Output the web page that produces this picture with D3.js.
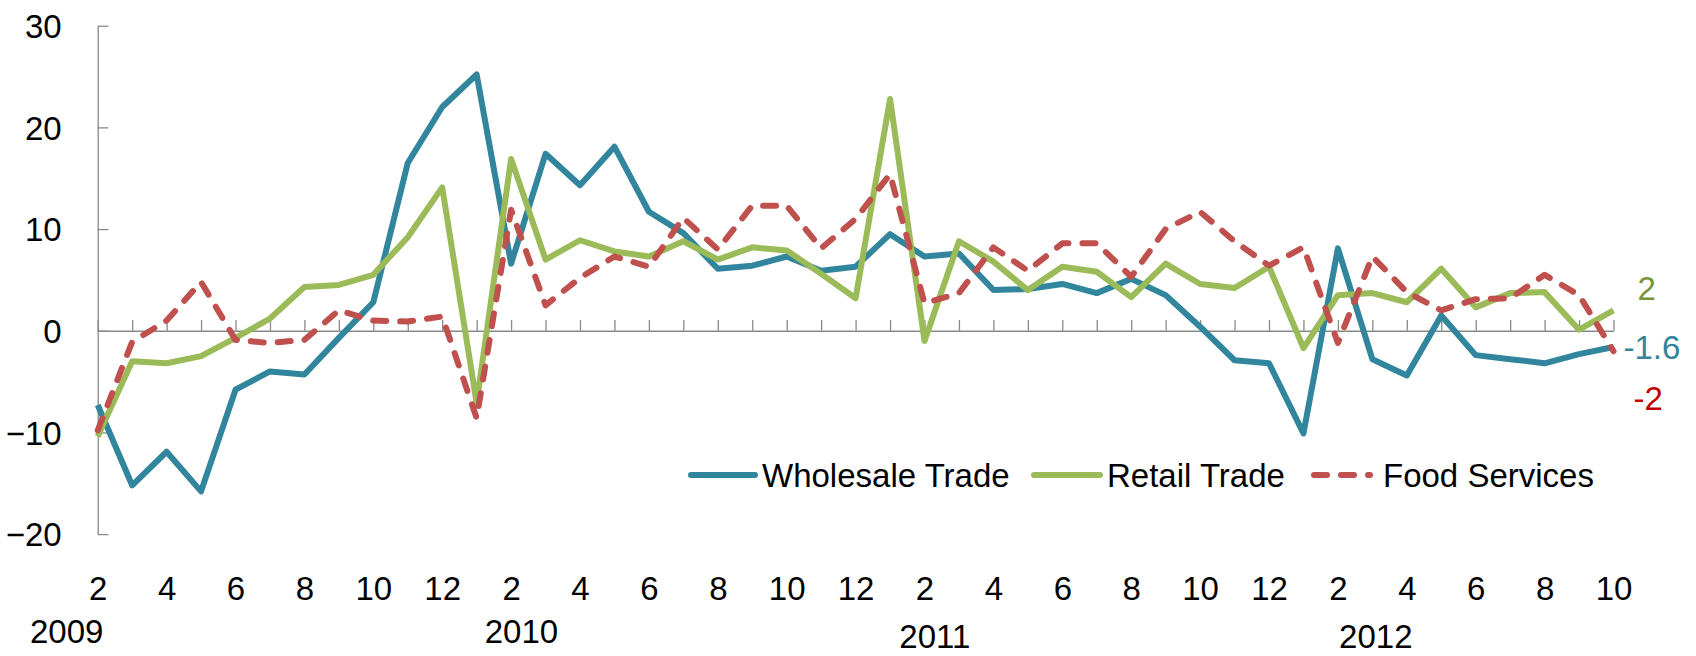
<!DOCTYPE html>
<html>
<head>
<meta charset="utf-8">
<script src="https://cdn.jsdelivr.net/npm/d3@7"></script>
<style>
  body { margin: 0; background: #fff; }
  svg { display: block; font-family: "Liberation Sans", Arial, sans-serif; }
  .axis path, .axis line { stroke: #898989; stroke-width: 1.3; }
  .axis text { font-size: 33px; fill: #000; }
</style>
</head>
<body>
<svg id="chart" width="1696" height="656"></svg>
<script>
// month of each observation, Feb 2009 .. Oct 2012
const months = [2, 3, 4, 5, 6, 7, 8, 9, 10, 11, 12,
    1, 2, 3, 4, 5, 6, 7, 8, 9, 10, 11, 12,
    1, 2, 3, 4, 5, 6, 7, 8, 9, 10, 11, 12,
    1, 2, 3, 4, 5, 6, 7, 8, 9, 10];
const years = ['2009', '2010', '2011', '2012'];
const yTicks = [-20, -10, 0, 10, 20, 30];

const wholesale = [-7.3, -15.2, -11.9, -15.8, -5.8, -4.0, -4.3, -0.7, 2.8, 16.5, 22.0,
    25.2, 6.6, 17.4, 14.3, 18.1, 11.7, 9.6, 6.1, 6.4, 7.3, 5.9, 6.3,
    9.5, 7.3, 7.6, 4.0, 4.1, 4.6, 3.7, 5.1, 3.5, 0.4, -2.9, -3.2,
    -10.1, 8.1, -2.8, -4.4, 1.5, -2.4, -2.8, -3.2, -2.3, -1.6];
const retail = [-10.4, -3.0, -3.2, -2.5, -0.7, 1.2, 4.3, 4.5, 5.5, 9.2, 14.1,
    -7.1, 16.9, 7.0, 8.9, 7.8, 7.3, 8.8, 7.0, 8.2, 7.9, 5.6, 3.2,
    22.8, -1.0, 8.8, 6.8, 4.0, 6.3, 5.8, 3.3, 6.6, 4.6, 4.2, 6.3,
    -1.7, 3.5, 3.7, 2.8, 6.1, 2.3, 3.7, 3.8, 0.1, 2.0];
const food = [-9.8, -1.1, 1.0, 4.8, -0.9, -1.2, -0.9, 2.0, 1.0, 0.9, 1.4,
    -8.6, 11.9, 2.5, 5.2, 7.3, 6.3, 11.1, 8.0, 12.3, 12.3, 8.1, 11.0,
    15.4, 2.7, 3.7, 8.2, 5.9, 8.6, 8.6, 5.3, 10.0, 11.7, 8.8, 6.4,
    8.2, -1.2, 7.3, 3.8, 2.0, 3.1, 3.2, 5.5, 3.5, -2.0];

const series = [
    { name: 'Wholesale Trade', values: wholesale, color: '#31859C', labelColor: '#31859C', dash: null },
    { name: 'Retail Trade', values: retail, color: '#9BBB59', labelColor: '#77933C', dash: null },
    { name: 'Food Services', values: food, color: '#C0504D', labelColor: '#C00000', dash: '13 14' }
];

const svg = d3.select('#chart');
const lineWidth = 6;

const x = d3.scaleLinear()
    .domain([0, months.length - 1])
    .range([97.7, 1613.5]);
const y = d3.scaleLinear()
    .domain([-20, 30])
    .range([534.1, 25.7]);

// y axis, ticks pointing into the plot
svg.append('g')
    .attr('class', 'axis')
    .attr('transform', `translate(${x(0)}, 0)`)
    .call(d3.axisLeft(y).tickValues(yTicks).tickSize(-10.7).tickSizeOuter(0).tickPadding(36))
    .call((g) => g.selectAll('text').attr('dy', '0.36em'));

// x axis line on zero, ticks up
svg.append('g')
    .attr('class', 'axis')
    .attr('transform', `translate(0, ${y(0)})`)
    .call(d3.axisBottom(x).tickValues(d3.range(months.length)).tickSize(-10.7).tickSizeOuter(0).tickFormat(''));

// month labels below the plot
svg.append('g')
    .attr('class', 'axis')
    .attr('transform', 'translate(0, 600)')
    .call(d3.axisBottom(x)
        .tickValues(d3.range(0, months.length, 2))
        .tickSize(0)
        .tickPadding(0)
        .tickFormat((i) => months[i]))
    .call((g) => g.select('.domain').remove())
    .call((g) => g.selectAll('text').attr('dy', 0));

// year labels, placed by month index
const yearPos = [{ i: -0.9, y: 643 }, { i: 12.3, y: 643 }, { i: 24.3, y: 648 }, { i: 37.1, y: 648 }];
svg.append('g')
    .selectAll('text')
    .data(years)
    .join('text')
    .attr('x', (d, k) => x(yearPos[k].i))
    .attr('y', (d, k) => yearPos[k].y)
    .attr('text-anchor', 'middle')
    .attr('font-size', 33)
    .text((d) => d);

const line = d3.line()
    .x((d, i) => x(i))
    .y((d) => y(d));

svg.append('g')
    .selectAll('path')
    .data(series)
    .join('path')
    .attr('d', (s) => line(s.values))
    .attr('fill', 'none')
    .attr('stroke', (s) => s.color)
    .attr('stroke-width', lineWidth)
    .attr('stroke-linejoin', 'round')
    .attr('stroke-linecap', (s) => s.dash ? 'round' : 'butt')
    .attr('stroke-dasharray', (s) => s.dash);

// last-value labels at the right
const endOffsets = [{ dx: 10, dy: 0 }, { dx: 24, dy: -22 }, { dx: 20, dy: 47 }];
svg.append('g')
    .selectAll('text')
    .data(series)
    .join('text')
    .attr('x', (s, k) => x(s.values.length - 1) + endOffsets[k].dx)
    .attr('y', (s, k) => y(s.values[s.values.length - 1]) + endOffsets[k].dy)
    .attr('dy', '0.36em')
    .attr('font-size', 33)
    .attr('fill', (s) => s.labelColor)
    .text((s) => s.values[s.values.length - 1]);

// legend
const legendItems = [{ x1: 691, x2: 755, tx: 762 }, { x1: 1034, x2: 1100, tx: 1107 }, { x1: 1314, x2: 1370, tx: 1383 }];
const legend = svg.append('g').attr('transform', 'translate(0, 475)');
const item = legend.selectAll('g')
    .data(series)
    .join('g');
item.append('line')
    .attr('x1', (s, k) => legendItems[k].x1)
    .attr('x2', (s, k) => legendItems[k].x2)
    .attr('stroke', (s) => s.color)
    .attr('stroke-width', lineWidth)
    .attr('stroke-linecap', 'round')
    .attr('stroke-dasharray', (s) => s.dash);
item.append('text')
    .attr('x', (s, k) => legendItems[k].tx)
    .attr('dy', '0.36em')
    .attr('font-size', 33)
    .text((s) => s.name);
</script>
</body>
</html>
